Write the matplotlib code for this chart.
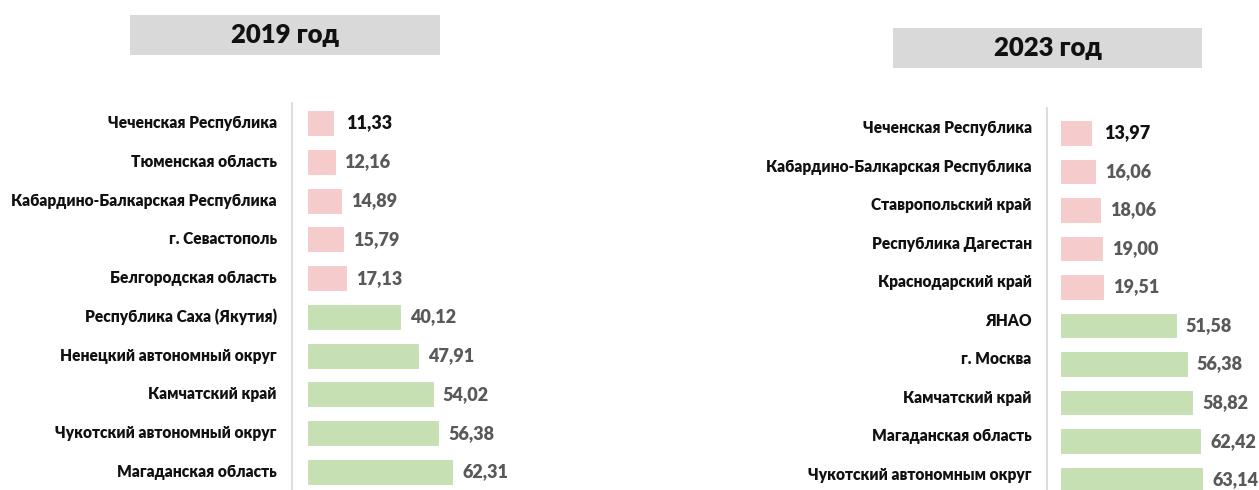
import matplotlib
matplotlib.use("Agg")
import matplotlib.pyplot as plt
from matplotlib.patches import Rectangle

plt.rcParams['font.family'] = ['Lato', 'DejaVu Sans']

regions_2019 = ["Чеченская Республика", "Тюменская область", "Кабардино-Балкарская Республика",
                "г. Севастополь", "Белгородская область", "Республика Саха (Якутия)",
                "Ненецкий автономный округ", "Камчатский край", "Чукотский автономный округ",
                "Магаданская область"]
values_2019 = [11.33, 12.16, 14.89, 15.79, 17.13, 40.12, 47.91, 54.02, 56.38, 62.31]

regions_2023 = ["Чеченская Республика", "Кабардино-Балкарская Республика", "Ставропольский край",
                "Республика Дагестан", "Краснодарский край", "ЯНАО", "г. Москва",
                "Камчатский край", "Магаданская область", "Чукотский автономным округ"]
values_2023 = [13.97, 16.06, 18.06, 19.00, 19.51, 51.58, 56.38, 58.82, 62.42, 63.14]

titles = ["2019 год", "2023 год"]

PINK = "#f5cbcc"
GREEN = "#c6e0b4"
W, H = 1259, 490
fig = plt.figure(figsize=(W / 100, H / 100), dpi=100)

def px_axes(x0, y0, x1, y1):
    return fig.add_axes([x0 / W, 1 - y1 / H, (x1 - x0) / W, (y1 - y0) / H])

def draw(ax, names, vals, xlim, ylim, label_dy):
    n = len(vals)
    colors = [PINK] * 5 + [GREEN] * (n - 5)
    ys = list(range(n))
    ax.barh(ys, vals, height=0.67, color=colors, edgecolor="white", linewidth=0.8)
    ax.set_xlim(*xlim)
    ax.set_ylim(*ylim)
    for s in ["top", "right", "bottom"]:
        ax.spines[s].set_visible(False)
    ax.spines["left"].set_color("#d9d9d9")
    ax.spines["left"].set_linewidth(1.3)
    ax.set_xticks([])
    ax.set_yticks([])
    for i, (nm, v) in enumerate(zip(names, vals)):
        ax.annotate(nm, xy=(xlim[0], i + label_dy), xytext=(-11, 0), textcoords="offset points",
                    ha="right", va="center", fontsize=11.2, fontweight="heavy", color="#111111")
        col = "#111111" if i == 0 else "#595959"
        off = 9 if i == 0 else 6.5
        ax.annotate(f"{v:.2f}".replace(".", ","), xy=(v, i), xytext=(off, 0),
                    textcoords="offset points", ha="left", va="center",
                    fontsize=13, fontweight="heavy", color=col, annotation_clip=False)

ax1 = px_axes(292, 103, 540, 490)
draw(ax1, regions_2019, values_2019, (-6.4, 99.4), (9.464, -0.516), 0.0)

ax2 = px_axes(1047, 108, 1259, 490)
draw(ax2, regions_2023, values_2023, (-5.74, 87.86), (9.27, -0.65), -0.13)

# title boxes
for (x0, y0, x1, y1), t in zip([(130, 15, 440, 55), (893, 28, 1202, 68)], titles):
    fig.patches.append(Rectangle((x0 / W, 1 - y1 / H), (x1 - x0) / W, (y1 - y0) / H,
                                 transform=fig.transFigure, facecolor="#d9d9d9",
                                 edgecolor="none", zorder=0))
    fig.text((x0 + x1) / 2 / W, 1 - (y0 + y1) / 2 / H, t, ha="center", va="center",
             fontsize=18.5, fontweight="heavy", color="#111111")

fig.savefig("out.png", dpi=100)
